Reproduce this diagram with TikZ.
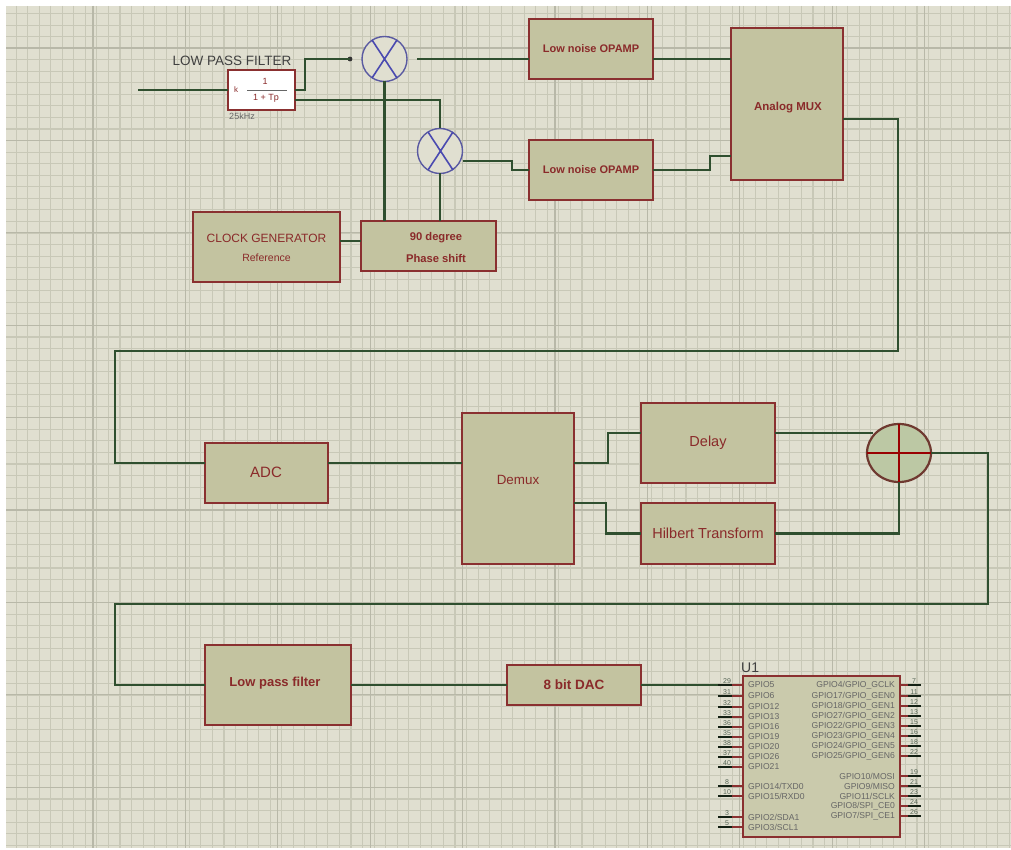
\documentclass[tikz,border=0pt]{standalone}
\usepackage{fontspec}
\setmainfont{Liberation Sans}
\usetikzlibrary{calc,shapes.geometric}
\definecolor{bgc}{HTML}{E0DFD0}
\definecolor{gridc}{HTML}{C8C8B7}
\definecolor{gridm}{HTML}{B8B8A8}
\definecolor{blockc}{HTML}{C3C3A0}
\definecolor{edgec}{HTML}{8A3030}
\definecolor{wirec}{HTML}{2F4F2F}
\definecolor{textc}{HTML}{8A2A2A}
\definecolor{mixc}{HTML}{4A4AB0}
\definecolor{sumc}{HTML}{BCC8A4}
\newcommand{\fsz}[1]{\fontsize{#1}{#1}\selectfont}
\tikzset{
  x=1pt,y=-1pt,
  blockbox/.style={draw=edgec,fill=blockc,line width=2pt,inner sep=0pt,outer sep=0pt,align=center,text=textc,font=\fsz{11.5}},
  wire/.style={draw=wirec,line width=2.1pt,line join=miter},
  mixer/.style={circle,draw=mixc!70!gray,fill=bgc,line width=1.4pt,minimum size=45pt,inner sep=0pt,outer sep=0pt},
  pinwire/.style={draw=wirec!40!black,line width=1.8pt},
  pinnum/.style={font=\fsz{7},text=wirec!50!gray,inner sep=0pt},
  pinl/.style={font=\fsz{8.6},text=black!60,inner sep=0pt,anchor=west},
  pinr/.style={font=\fsz{8.6},text=black!60,inner sep=0pt,anchor=east},
}
\newcommand{\lpin}[4]{% y, num, label, name
  \node[pinl] (#4) at (748,#1) {#3};
  \coordinate (#4s) at (718,#1);
  \draw[edgec,line width=1.8pt] (732,#1) -- (u1.west |- #4s);
  \draw[pinwire] (#4s) -- (732,#1);
  \node[pinnum] (#4n) at (727,#1-4) {#2};}
\newcommand{\rpin}[4]{%
  \node[pinr] (#4) at (895,#1) {#3};
  \coordinate (#4s) at (921,#1);
  \draw[edgec,line width=1.8pt] (u1.east |- #4s) -- (908,#1);
  \draw[pinwire] (908,#1) -- (#4s);
  \node[pinnum] (#4n) at (914,#1-4) {#2};}
\begin{document}
\begin{tikzpicture}
\useasboundingbox (0,0) rectangle (1011,850);
\fill[white] (0,0) rectangle (1011,850);
\fill[bgc] (6,6) rectangle (1011,848);
\begin{scope}
\clip (6,6) rectangle (1011,848);
\foreach \i in {0,...,87} {
  \draw[gridc,line width=1.1pt] ({4.5+11.55*\i},6) -- ({4.5+11.55*\i},848);
}
\foreach \i in {0,...,73} {
  \draw[gridc,line width=1.1pt] (6,{2+11.55*\i}) -- (1011,{2+11.55*\i});
}
\foreach \i in {0,...,10} {
  \draw[gridm,line width=1.1pt] ({93+92.4*\i},6) -- ({93+92.4*\i},848);
}
\foreach \i in {0,...,9} {
  \draw[gridm,line width=1.1pt] (6,{48+92.4*\i}) -- (1011,{48+92.4*\i});
}
\end{scope}

% blocks
\node[blockbox,fill=white,minimum width=67pt,minimum height=40pt] (lpf) at (261.5,90) {};
\node[font=\fsz{8},text=textc,inner sep=0pt] (lpfk) at (236,90) {k};
\node[font=\fsz{9},text=textc,inner sep=0pt] (lpfn) at (265,81) {1};
\draw[black!60,line width=.9pt] (247,90) -- (287,90);
\node[font=\fsz{9},text=textc,inner sep=0pt] (lpfd) at (266,98) {1 + Tp};
\node[font=\fsz{13.5},text=black!75,inner sep=0pt] (lpft) at (232,61) {LOW PASS FILTER};
\node[font=\fsz{9},text=black!60,inner sep=0pt] (lpff) at (242,116) {25kHz};

\node[mixer] (m1) at (384.5,59) {};
\node[mixer] (m2) at (440,151) {};
\draw[mixc,line width=1.6pt] (372,40) -- (397,78) (397,40) -- (372,78);
\draw[mixc,line width=1.6pt] (428,132) -- (453,170) (453,132) -- (428,170);

\node[blockbox,minimum width=147pt,minimum height=70pt] (clk) at (266.5,247) {};
\node[text=textc,font=\fsz{12},inner sep=0pt] (clkt) at (266.5,238) {CLOCK GENERATOR};
\node[text=textc,font=\fsz{10.5},inner sep=0pt] (clkr) at (266.5,258) {Reference};
\node[blockbox,minimum width=135pt,minimum height=50pt] (ps) at (428.5,246) {};
\node[text=textc,font=\bfseries\fsz{11.2},inner sep=0pt] (pst) at (436,238) {90 degree};
\node[text=textc,font=\bfseries\fsz{11.2},inner sep=0pt] (psb) at (436,258) {Phase shift};
\node[blockbox,font=\bfseries\fsz{11},minimum width=124pt,minimum height=60pt] (op1) at (591,49) {Low noise OPAMP};
\node[blockbox,font=\bfseries\fsz{11},minimum width=124pt,minimum height=60pt] (op2) at (591,170) {Low noise OPAMP};
\node[blockbox,minimum width=112pt,minimum height=152pt] (mux) at (787,104) {};
\node[text=textc,font=\bfseries\fsz{11.5},inner sep=0pt] (muxt) at (788,108) {Analog MUX};
\node[blockbox,minimum width=123pt,minimum height=60pt] (adc) at (266.5,473) {};
\node[text=textc,font=\fsz{15},inner sep=0pt] (adct) at (266,472) {ADC};
\node[blockbox,minimum width=112pt,minimum height=151pt] (dmx) at (518,488.5) {};
\node[text=textc,font=\fsz{13.4},inner sep=0pt] (dmxt) at (518,480) {Demux};
\node[blockbox,font=\fsz{14.5},minimum width=134pt,minimum height=80pt] (dly) at (708,443) {Delay};
\node[blockbox,font=\fsz{14.5},minimum width=134pt,minimum height=61pt] (hil) at (708,533.5) {Hilbert Transform};
\node[blockbox,minimum width=146pt,minimum height=80pt] (lp2) at (278,685) {};
\node[text=textc,font=\bfseries\fsz{13},inner sep=0pt] (lp2t) at (275,683) {Low pass filter};
\node[blockbox,font=\bfseries\fsz{13.5},minimum width=134pt,minimum height=40pt] (dac) at (574,685) {8 bit DAC};

% summing junction
\node[ellipse,draw=wirec!30!edgec,fill=sumc,line width=2.2pt,minimum width=64pt,minimum height=58pt,inner sep=0pt,outer sep=0pt] (sum) at (899,453) {};
\draw[red!60!black,line width=2pt] (sum.west) -- (sum.east) (sum.north) -- (sum.south);

% free ends
\coordinate (inp) at (138,90);
\coordinate (dot) at (350,59);
\fill[black!80] (dot) circle (2.4);

% connectors
\draw[wire] (inp) -- (lpf.west);
\draw[wire] (lpf.east) -- (305,90) -- (305,59) -- (dot);
\draw[wire] ([yshift=-10pt]lpf.east) -| (m2.north);
\draw[wire] (m1.south) -- (m1.south |- ps.north);
\draw[wire] (m2.south) -- (m2.south |- ps.north);
\draw[wire] ([yshift=6pt]clk.east) -- ([yshift=5pt]ps.west);
\coordinate (m1o) at (417,59);
\draw[wire] (m1o) -- (op1.west |- m1o);
\draw[wire] ([yshift=-10pt]m2.east) -- (512,161) -- (512,170) -- (op2.west);
\draw[wire] (op1.east |- m1o) -- (mux.west |- m1o);
\draw[wire] (op2.east) -- (710,170) -- (710,156) -- (mux.west |- 0,156);
\draw[wire] (mux.east |- 0,119) -- (898,119) -- (898,351) -- (115,351) -- (115,463) -- (adc.west |- 0,463);
\draw[wire] (adc.east |- 0,463) -- (dmx.west |- 0,463);
\draw[wire] (dmx.east |- 0,463) -- (608,463) -- (608,433) -- (dly.west |- 0,433);
\draw[wire] (dmx.east |- 0,503) -- (606,503) -- (606,533.5) -- (hil.west);
\draw[wire] (dly.east |- 0,433) -- (873,433);
\draw[wire] (hil.east) -| (sum.south);
\draw[wire] (sum.east) -- (988,453) -- (988,604) -- (115,604) -- (115,685) -- (lp2.west);
\draw[wire] (lp2.east) -- (dac.west);

% U1
\node[blockbox,fill=blockc!75!bgc,minimum width=157pt,minimum height=161pt] (u1) at (821.5,756.5) {};
\node[font=\fsz{14},text=black!75,inner sep=0pt,anchor=west] (u1t) at (741,668) {U1};
\lpin{685}{29}{GPIO5}{a1}
\lpin{696}{31}{GPIO6}{a2}
\lpin{707}{32}{GPIO12}{a3}
\lpin{717}{33}{GPIO13}{a4}
\lpin{727}{36}{GPIO16}{a5}
\lpin{737}{35}{GPIO19}{a6}
\lpin{747}{38}{GPIO20}{a7}
\lpin{757}{37}{GPIO26}{a8}
\lpin{767}{40}{GPIO21}{a9}
\lpin{786}{8}{GPIO14/TXD0}{a10}
\lpin{796}{10}{GPIO15/RXD0}{a11}
\lpin{817}{3}{GPIO2/SDA1}{a12}
\lpin{827}{5}{GPIO3/SCL1}{a13}
\rpin{685}{7}{GPIO4/GPIO\_GCLK}{b1}
\rpin{696}{11}{GPIO17/GPIO\_GEN0}{b2}
\rpin{706}{12}{GPIO18/GPIO\_GEN1}{b3}
\rpin{716}{13}{GPIO27/GPIO\_GEN2}{b4}
\rpin{726}{15}{GPIO22/GPIO\_GEN3}{b5}
\rpin{736}{16}{GPIO23/GPIO\_GEN4}{b6}
\rpin{746}{18}{GPIO24/GPIO\_GEN5}{b7}
\rpin{756}{22}{GPIO25/GPIO\_GEN6}{b8}
\rpin{776}{19}{GPIO10/MOSI}{b9}
\rpin{786}{21}{GPIO9/MISO}{b10}
\rpin{796}{23}{GPIO11/SCLK}{b11}
\rpin{806}{24}{GPIO8/SPI\_CE0}{b12}
\rpin{816}{26}{GPIO7/SPI\_CE1}{b13}
\draw[wire] (dac.east) -- (a1s);
\end{tikzpicture}
\end{document}
